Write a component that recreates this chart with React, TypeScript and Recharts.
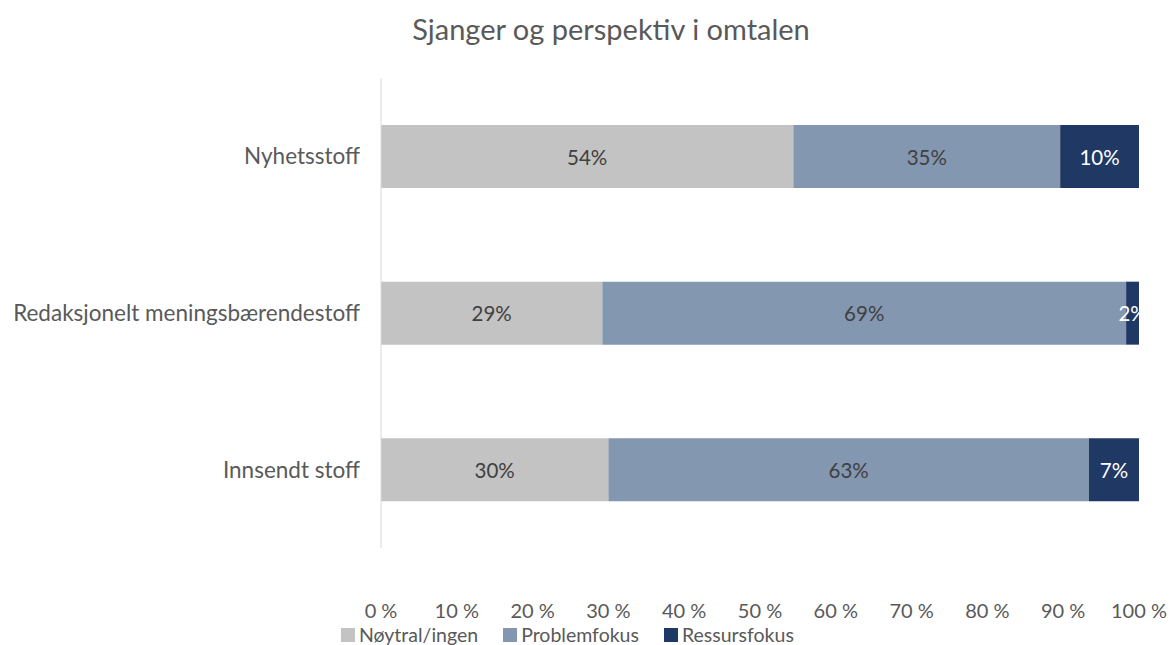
import React from 'react';
import { BarChart, Bar, XAxis, YAxis, LabelList, Legend } from 'recharts';

// Chart data: share of each perspective per genre (in percent)
const categories = ['Nyhetsstoff', 'Redaksjonelt meningsbærendestoff', 'Innsendt stoff'];
const noytral = [54.4, 29.2, 30.0];
const problemfokus = [35.2, 69.1, 63.4];
const ressursfokus = [10.4, 1.7, 6.6];
const xTicks = [0, 10, 20, 30, 40, 50, 60, 70, 80, 90, 100];

const series = [
  { key: 'noytral', name: 'Nøytral/ingen', color: '#C3C3C3', labelColor: '#404040' },
  { key: 'problem', name: 'Problemfokus', color: '#8497B0', labelColor: '#404040' },
  { key: 'ressurs', name: 'Ressursfokus', color: '#203864', labelColor: '#FFFFFF' },
];

const data = categories.map((name, i) => ({
  name,
  noytral: noytral[i],
  problem: problemfokus[i],
  ressurs: ressursfokus[i],
}));

const FONT = 'Lato, "Open Sans", sans-serif';
const TEXT = '#595959';

// centred percent label, clipped at the right end of its bar (like the "2%" one)
const makeLabel = (fill: string, idPrefix: string) => (props: any) => {
  const { x, y, width, height, value, index } = props;
  const cx = Number(x) + Number(width) / 2;
  const cy = Number(y) + Number(height) / 2;
  const clipId = `${idPrefix}-${index}`;
  return (
    <g>
      <defs>
        <clipPath id={clipId}>
          <rect x={0} y={Number(y)} width={Number(x) + Number(width)} height={Number(height)} />
        </clipPath>
      </defs>
      <text
        x={cx}
        y={cy}
        textAnchor="middle"
        dominantBaseline="central"
        fill={fill}
        fontSize={20.5}
        fontFamily={FONT}
        clipPath={`url(#${clipId})`}
      >
        {`${Math.round(Number(value))}%`}
      </text>
    </g>
  );
};

const renderLegend = () => (
  <div style={{ display: 'flex', gap: 25, fontFamily: FONT, fontSize: 19.5, color: TEXT, lineHeight: '24px' }}>
    {series.map((s) => (
      <div key={s.key} style={{ display: 'flex', alignItems: 'center' }}>
        <span style={{ width: 14, height: 14, background: s.color, marginRight: 4, display: 'inline-block' }} />
        {s.name}
      </div>
    ))}
  </div>
);

export default function App() {
  return (
    <div style={{ position: 'relative', width: 1171, height: 645, background: '#fff' }}>
      <style>{'body{margin:0}'}</style>
      <div
        style={{
          position: 'absolute',
          top: 12,
          left: 0,
          width: 1222,
          textAlign: 'center',
          fontFamily: FONT,
          fontSize: 29,
          color: TEXT,
          lineHeight: 1.2,
        }}
      >
        Sjanger og perspektiv i omtalen
      </div>
      <BarChart
        width={1171}
        height={645}
        data={data}
        layout="vertical"
        margin={{ top: 78, right: 32, bottom: 0, left: 0 }}
        barCategoryGap="30%"
      >
        <XAxis
          type="number"
          domain={[0, 100]}
          ticks={xTicks}
          tickFormatter={(v) => `${v} %`}
          axisLine={false}
          tickLine={false}
          tick={{ fill: TEXT, fontSize: 20, fontFamily: FONT }}
          tickMargin={50}
          height={73}
          interval={0}
        />
        <YAxis
          type="category"
          dataKey="name"
          width={381}
          axisLine={{ stroke: '#D9D9D9' }}
          tickLine={false}
          tickMargin={15}
          tick={{ fill: TEXT, fontSize: 22.5, fontFamily: FONT }}
        />
        <Legend
          verticalAlign="bottom"
          content={renderLegend}
          wrapperStyle={{ left: 341, bottom: -2, width: 'auto', height: 24 }}
        />
        {series.map((s) => (
          <Bar key={s.key} dataKey={s.key} name={s.name} stackId="a" fill={s.color} isAnimationActive={false}>
            <LabelList dataKey={s.key} content={makeLabel(s.labelColor, s.key)} />
          </Bar>
        ))}
      </BarChart>
    </div>
  );
}
